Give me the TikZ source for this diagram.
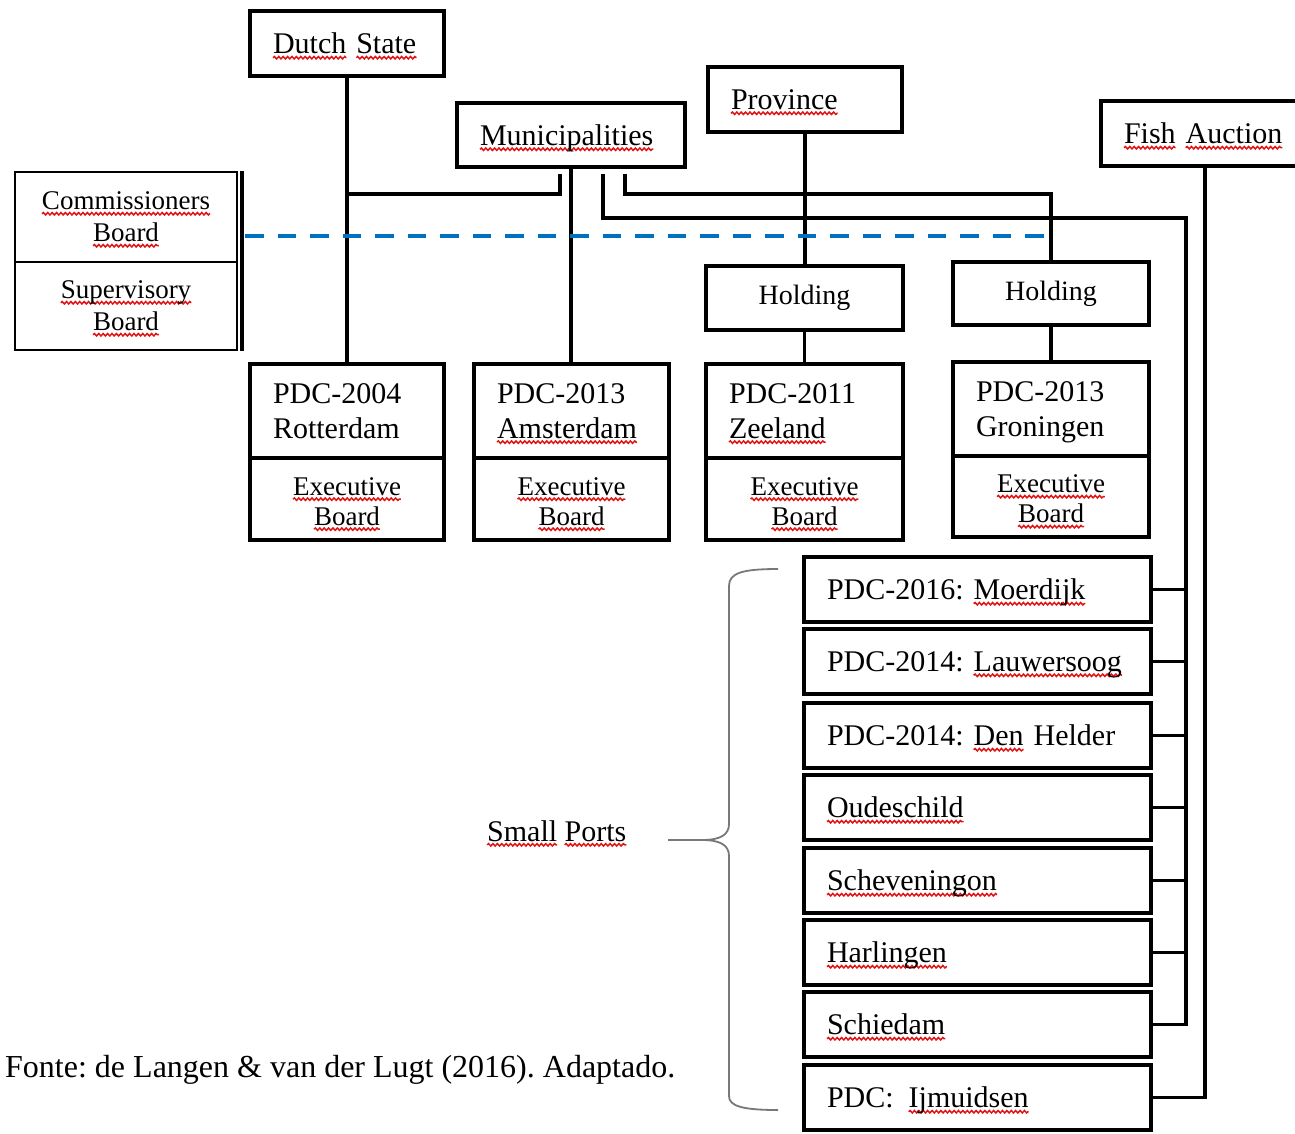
\documentclass[tikz,border=0pt]{standalone}
\usepackage{fontspec}
\setmainfont{Liberation Serif}
\frenchspacing
\usetikzlibrary{decorations.pathmorphing}

\definecolor{dashblue}{RGB}{0,112,192}
\definecolor{spellred}{RGB}{225,20,20}
\definecolor{bracegray}{RGB}{120,120,120}

% red wavy underline under a word
\newsavebox\sqbox
\newcommand\sq[1]{\sbox\sqbox{#1}\edef\sqwd{\the\wd\sqbox}\leavevmode
  \rlap{\tikz[overlay,baseline=0pt]\draw[squiggle](0pt,-3.8pt)--(\sqwd,-3.8pt);}\usebox\sqbox}
% word without descender depth
\newcommand\nodepth[1]{\raisebox{0pt}[\height][0pt]{#1}}
% first-line strut for the two-line board labels
\newcommand\topstrut{\rule{0pt}{23pt}}

\tikzset{
  squiggle/.style={draw=spellred, line width=1.5pt,
    decorate, decoration={snake, amplitude=1.2pt, segment length=4.4pt}},
  box/.style={draw, line width=3.5pt, inner sep=0pt,
    font=\fontsize{30}{35}\selectfont},
  oneline/.style={text depth=0pt},
  lbox/.style={box, align=left, inner xsep=23pt, minimum width=#1, text width=#1-46pt},
  cbox/.style={box, align=center, minimum width=#1},
  small/.style={font=\fontsize{27}{30}\selectfont},
  thinbox/.style={draw, line width=2pt, inner sep=0pt, text depth=0pt, align=center,
    minimum width=222pt, font=\fontsize{27}{32}\selectfont},
  port/.style={lbox=347pt, oneline, minimum height=65pt},
  conn/.style={line width=3.8pt},
  dashline/.style={draw=dashblue, line width=3.5pt, dash pattern=on 18.5pt off 14pt},
  bracestyle/.style={draw=bracegray, line width=1.8pt},
}

\begin{document}
\begin{tikzpicture}[x=1pt, y=-1pt]
\useasboundingbox (0,0) rectangle (1295,1133);
\fill[white] (0,0) rectangle (1295,1133);
\clip (0,0) rectangle (1295,1133);

% owners
\node[lbox=194pt, oneline, minimum height=65pt] (dutch) at (347,43.5) {\sq{Dutch} \sq{State}};
\node[lbox=228pt, oneline, minimum height=64pt] (muni) at (571,135) {\sq{Municipalities}};
\node[lbox=194pt, oneline, minimum height=65pt] (prov) at (805,99.5) {\sq{Province}};
\node[lbox=208pt, oneline, minimum height=65pt] (fish) at (1205,133.5) {\sq{Fish} \sq{Auction}};

% boards
\node[thinbox, minimum height=90pt] (comm) at (126,217) {\sq{Commissioners}\\\sq{Board}};
\node[thinbox, minimum height=88pt] (superv) at (126,306) {\sq{Supervisory}\\\sq{Board}};
\draw[line width=4pt] ([xshift=4pt]comm.north east) -- ([xshift=4pt]superv.south east);

% holdings
\node[cbox=197pt, minimum height=64pt, font=\fontsize{28}{32}\selectfont] (hold1) at (804.5,298) {Holding};
\node[cbox=196pt, minimum height=63pt, font=\fontsize{28}{32}\selectfont] (hold2) at (1051,293.5) {Holding};

% port development companies
\node[lbox=194pt, minimum height=94pt] (rot) at (347,411) {PDC-2004\\Rotterdam};
\node[cbox=194pt, minimum height=82pt, small] (rotx) at (347,499) {\topstrut\sq{Executive}\\\sq{Board}};
\node[lbox=195pt, minimum height=94pt] (ams) at (571.5,411) {PDC-2013\\\sq{Amsterdam}};
\node[cbox=195pt, minimum height=82pt, small] (amsx) at (571.5,499) {\topstrut\sq{Executive}\\\sq{Board}};
\node[lbox=197pt, minimum height=94pt] (zee) at (804.5,411) {PDC-2011\\\sq{Zeeland}};
\node[cbox=197pt, minimum height=82pt, small] (zeex) at (804.5,499) {\topstrut\sq{Executive}\\\sq{Board}};
\node[lbox=196pt, minimum height=94pt] (gro) at (1051,409) {PDC-2013\\\nodepth{Groningen}};
\node[cbox=196pt, minimum height=81pt, small] (grox) at (1051,496.5) {\topstrut\sq{Executive}\\\sq{Board}};

% small ports
\node[port] (moer) at (977.5,589.5) {PDC-2016:~\sq{Moerdijk}};
\node[port] (lauw) at (977.5,661.5) {PDC-2014:~\sq{Lauwersoog}};
\node[port] (denh) at (977.5,735.5) {PDC-2014:~\sq{Den} Helder};
\node[port] (oude) at (977.5,807.5) {\sq{Oudeschild}};
\node[port] (schev) at (977.5,880.5) {\sq{Scheveningon}};
\node[port] (harl) at (977.5,952.5) {\sq{Harlingen}};
\node[port] (schie) at (977.5,1024.5) {\sq{Schiedam}};
\node[port] (ijm) at (977.5,1097.5) {PDC:\hspace{5pt} \sq{Ijmuidsen}};

\node[anchor=base west, inner sep=0pt, font=\fontsize{30}{35}\selectfont] (smallports) at (487,841) {\sq{Small} \sq{Ports}};
\node[anchor=base west, inner sep=0pt, font=\fontsize{32}{38}\selectfont] (fonte) at (5,1077)
  {Fonte: de Langen \& van der Lugt (2016). Adaptado.};

% junction points
\coordinate (j1) at (347,194);
\coordinate (j2) at (1051,194);
\coordinate (busR) at (1186,218);
\coordinate (dashS) at (245,236);
\coordinate (dashE) at (1045,236);

% ownership lines
\draw[conn] (dutch.south) -- (rot.north);
\draw[conn] (j1) -| ([xshift=-11pt,yshift=-5pt]muni.south);
\draw[conn] (muni.south) -- (muni.south |- ams.north);
\draw[conn] ([xshift=54pt,yshift=-5pt]muni.south) |- (j2) -- (hold2.north);
\draw[conn] ([xshift=32pt,yshift=-5pt]muni.south) |- (busR) -- (busR |- schie.east) -- (schie.east);
\foreach \p in {moer,lauw,denh,oude,schev,harl}
  \draw[conn] (\p.east) -- (\p.east -| busR);
\draw[conn] (prov.south) -- (prov.south |- hold1.north);
\draw[conn] (hold1.south) -- (hold1.south |- zee.north);
\draw[conn] (hold2.south) -- (hold2.south |- gro.north);
\draw[conn] (ijm.east) -| (fish.south);

% board link
\draw[dashline] (dashS) -- (dashE);

% brace grouping the small ports
\coordinate (bTop) at (778,569);
\coordinate (bTip) at (668,840);
\coordinate (bBot) at (778,1110);
\draw[bracestyle] (bTop) .. controls (742,569) and (729,573) .. (729,586) -- (729,824)
  .. controls (729,835) and (720,840) .. (702,840) -- (bTip);
\draw[bracestyle] (702,840) .. controls (720,840) and (729,845) .. (729,856) -- (729,1096)
  .. controls (729,1106) and (742,1110) .. (bBot);
\end{tikzpicture}
\end{document}
